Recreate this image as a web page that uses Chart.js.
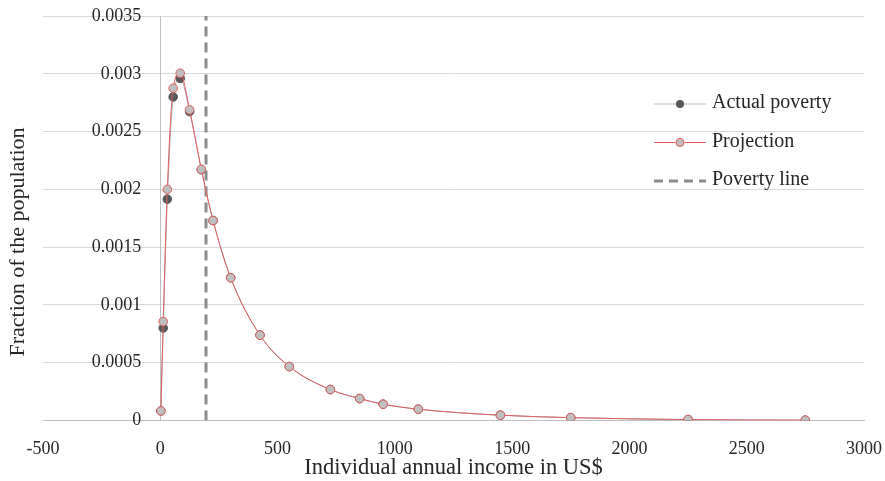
<!DOCTYPE html>
<html>
<head>
<meta charset="utf-8">
<script src="https://cdn.jsdelivr.net/npm/chart.js@4/dist/chart.umd.min.js"></script>
<style>
  html, body { margin: 0; padding: 0; background: #fff; }
  #wrap { width: 885px; height: 481px; }
</style>
</head>
<body>
<div id="wrap"><canvas id="chart" width="885" height="481"></canvas></div>
<script>
// income points (US$) where the distribution was evaluated
const incomes = [2.5, 12.5, 30, 55, 85, 125, 175, 225, 300, 425, 550, 725, 850, 950, 1100, 1450, 1750, 2250, 2750];
const actualShares = [0.000082, 0.0008, 0.001915, 0.0028, 0.00296, 0.002673, 0.00217, 0.00173, 0.001235, 0.000738, 0.000466, 0.000267, 0.000189, 0.00014, 0.000097, 0.000045, 0.000024, 0.000007, 0.000002];
const projectedShares = [0.000082, 0.000855, 0.002, 0.002875, 0.003005, 0.002688, 0.002173, 0.00173, 0.001235, 0.000738, 0.000466, 0.000267, 0.000189, 0.00014, 0.000097, 0.000045, 0.000024, 0.000007, 0.000002];
const povertyLine = 195;
const xTicks = [-500, 0, 500, 1000, 1500, 2000, 2500, 3000];
const yTicks = [0, 0.0005, 0.001, 0.0015, 0.002, 0.0025, 0.003, 0.0035];

const FONT = "'Liberation Serif', 'Times New Roman', serif";
const TEXT = "#262626";

const toPoints = (xs, ys) => xs.map((x, i) => ({ x: x, y: ys[i] }));
const fmtY = v => String(+v.toFixed(4));

// legend drawn inside the plot, on the right
const legendItems = [
    { label: "Actual poverty", kind: "actual" },
    { label: "Projection", kind: "proj" },
    { label: "Poverty line", kind: "line" }
];

const extrasPlugin = {
    id: "extras",
    afterDraw(chart) {
        const ctx = chart.ctx;
        const xs = chart.scales.x, ys = chart.scales.y;

        // y tick labels sit left of the x = 0 axis line
        ctx.save();
        ctx.fillStyle = TEXT;
        ctx.font = "18px " + FONT;
        ctx.textAlign = "right";
        ctx.textBaseline = "middle";
        const xAxis = xs.getPixelForValue(0);
        ys.ticks.forEach(t => {
            ctx.fillText(fmtY(t.value), xAxis - 19, ys.getPixelForValue(t.value));
        });
        ctx.restore();

        // y axis title
        ctx.save();
        ctx.fillStyle = TEXT;
        ctx.font = "22px " + FONT;
        ctx.textAlign = "center";
        ctx.textBaseline = "middle";
        ctx.translate(18, 242);
        ctx.rotate(-Math.PI / 2);
        ctx.fillText("Fraction of the population", 0, 0);
        ctx.restore();

        ctx.save();
        let y = 104;
        legendItems.forEach(item => {
            const x0 = 654, x1 = 706, xm = (x0 + x1) / 2;
            ctx.beginPath();
            if (item.kind === "actual") {
                ctx.strokeStyle = "#bfbfbf"; ctx.lineWidth = 1;
                ctx.moveTo(x0, y); ctx.lineTo(x1, y); ctx.stroke();
                ctx.beginPath(); ctx.fillStyle = "#595959";
                ctx.arc(xm, y, 4, 0, Math.PI * 2); ctx.fill();
            } else if (item.kind === "proj") {
                ctx.strokeStyle = "#e06060"; ctx.lineWidth = 1;
                ctx.moveTo(x0, y); ctx.lineTo(x1, y); ctx.stroke();
                ctx.beginPath(); ctx.fillStyle = "#bfbfbf";
                ctx.arc(xm, y, 4, 0, Math.PI * 2); ctx.fill(); ctx.stroke();
            } else {
                ctx.strokeStyle = "#8c8c8c"; ctx.lineWidth = 3;
                ctx.setLineDash([9, 6]);
                ctx.moveTo(x0, y); ctx.lineTo(x1, y); ctx.stroke();
                ctx.setLineDash([]);
            }
            ctx.fillStyle = TEXT;
            ctx.font = "20px " + FONT;
            ctx.textAlign = "left";
            ctx.textBaseline = "middle";
            ctx.fillText(item.label, 712, y - 1);
            y += 38.5;
        });
        ctx.restore();
    }
};

new Chart(document.getElementById("chart"), {
    type: "line",
    data: {
        datasets: [
            {
                label: "Projection",
                data: toPoints(incomes, projectedShares),
                borderColor: "#e06060",
                borderWidth: 1,
                pointRadius: 4.3,
                pointBackgroundColor: "#bfbfbf",
                pointBorderColor: "#e06060",
                pointBorderWidth: 1,
                cubicInterpolationMode: "monotone",
                order: 1
            },
            {
                label: "Actual poverty",
                data: toPoints(incomes, actualShares),
                borderColor: "#a6a6a6",
                borderWidth: 1,
                pointRadius: 4.3,
                pointBackgroundColor: "#595959",
                pointBorderColor: "#595959",
                cubicInterpolationMode: "monotone",
                order: 2
            },
            {
                label: "Poverty line",
                data: [{ x: povertyLine, y: 0 }, { x: povertyLine, y: 0.0035 }],
                borderColor: "#8c8c8c",
                borderWidth: 3,
                borderDash: [10, 6],
                pointRadius: 0,
                order: 3
            }
        ]
    },
    options: {
        responsive: false,
        animation: false,
        layout: { padding: { left: 43, right: 10, top: 16, bottom: 1 } },
        plugins: {
            legend: { display: false },
            tooltip: { enabled: false }
        },
        scales: {
            x: {
                type: "linear",
                min: -500,
                max: 3000,
                afterBuildTicks: axis => { axis.ticks = xTicks.map(v => ({ value: v })); },
                ticks: {
                    padding: 3,
                    color: TEXT,
                    font: { family: FONT, size: 18 },
                    callback: v => String(v)
                },
                // invisible tick marks only push the labels down
                grid: { display: true, drawOnChartArea: false, drawTicks: true, tickLength: 15, color: "rgba(0,0,0,0)", tickColor: "rgba(0,0,0,0)" },
                border: { display: true, color: "#bfbfbf", width: 1 },
                title: {
                    display: true,
                    text: "Individual annual income in US$",
                    color: TEXT,
                    font: { family: FONT, size: 22.5 },
                    padding: { top: -8, bottom: -2 }
                }
            },
            y: {
                type: "linear",
                position: { x: 0 },
                min: 0,
                max: 0.0035,
                afterBuildTicks: axis => { axis.ticks = yTicks.map(v => ({ value: v })); },
                ticks: { display: false },
                grid: { color: "#d9d9d9", lineWidth: 1, drawTicks: false },
                border: { display: true, color: "#bfbfbf", width: 1 }
            }
        }
    },
    plugins: [extrasPlugin]
});
</script>
</body>
</html>
